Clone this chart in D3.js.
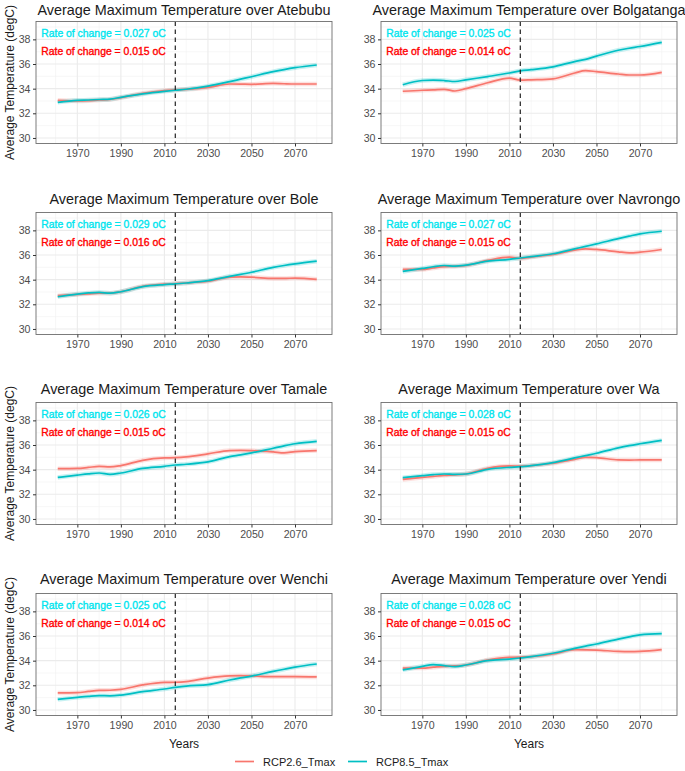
<!DOCTYPE html>
<html>
<head>
<meta charset="utf-8">
<script src="https://cdn.jsdelivr.net/npm/d3@7/dist/d3.min.js"></script>
<style>
  html, body { margin: 0; padding: 0; background: #fff; }
  svg { display: block; font-family: "Liberation Sans", Arial, Helvetica, sans-serif; }
</style>
</head>
<body>
<svg id="chart" width="685" height="771"></svg>
<script>
// ---------------- DATA ----------------
const stations = ["Atebubu", "Bolgatanga", "Bole", "Navrongo", "Tamale", "Wa", "Wenchi", "Yendi"];
const years = [1961, 1970, 1975, 1980, 1985, 1990, 2000, 2010, 2015, 2020, 2030, 2040, 2045, 2050, 2060, 2065, 2070, 2080];

// RCP2.6_Tmax smoothed values per station
const rcp26 = [
  [33.05, 33.00, 33.02, 33.08, 33.12, 33.27, 33.62, 33.84, 33.90, 33.95, 34.10, 34.38, 34.37, 34.35, 34.43, 34.40, 34.38, 34.38],
  [33.79, 33.87, 33.90, 33.95, 33.81, 34.00, 34.48, 34.85, 34.69, 34.72, 34.80, 35.27, 35.46, 35.38, 35.19, 35.11, 35.11, 35.32],
  [32.70, 32.80, 32.85, 32.90, 32.90, 33.02, 33.46, 33.63, 33.68, 33.73, 33.87, 34.20, 34.22, 34.20, 34.10, 34.10, 34.13, 34.03],
  [34.83, 34.83, 34.95, 35.05, 35.08, 35.15, 35.56, 35.83, 35.72, 35.83, 36.05, 36.40, 36.50, 36.45, 36.26, 36.18, 36.23, 36.45],
  [34.08, 34.10, 34.18, 34.27, 34.22, 34.33, 34.76, 34.95, 34.97, 35.03, 35.28, 35.55, 35.56, 35.55, 35.44, 35.36, 35.47, 35.55],
  [33.21, 33.37, 33.45, 33.54, 33.58, 33.65, 34.11, 34.30, 34.28, 34.33, 34.52, 34.84, 35.00, 34.98, 34.79, 34.78, 34.79, 34.79],
  [31.38, 31.40, 31.50, 31.59, 31.60, 31.67, 32.03, 32.24, 32.25, 32.30, 32.59, 32.76, 32.78, 32.76, 32.70, 32.70, 32.70, 32.68],
  [33.40, 33.40, 33.47, 33.54, 33.58, 33.65, 34.05, 34.27, 34.28, 34.32, 34.54, 34.89, 34.88, 34.86, 34.75, 34.73, 34.75, 34.89]
];

// RCP8.5_Tmax smoothed values per station
const rcp85 = [
  [32.89, 33.05, 33.08, 33.12, 33.15, 33.30, 33.57, 33.78, 33.87, 33.95, 34.20, 34.57, 34.77, 34.97, 35.38, 35.55, 35.70, 35.92],
  [34.32, 34.66, 34.70, 34.66, 34.58, 34.72, 34.98, 35.27, 35.45, 35.54, 35.77, 36.20, 36.38, 36.64, 37.12, 37.28, 37.42, 37.76],
  [32.61, 32.83, 32.92, 32.97, 32.90, 33.02, 33.43, 33.60, 33.66, 33.73, 33.92, 34.27, 34.43, 34.60, 35.00, 35.15, 35.28, 35.50],
  [34.67, 34.91, 35.05, 35.15, 35.10, 35.18, 35.50, 35.65, 35.76, 35.87, 36.10, 36.50, 36.70, 36.90, 37.33, 37.53, 37.72, 37.93],
  [33.37, 33.56, 33.66, 33.73, 33.62, 33.73, 34.10, 34.27, 34.38, 34.44, 34.63, 35.06, 35.20, 35.36, 35.74, 35.93, 36.10, 36.30],
  [33.35, 33.51, 33.60, 33.65, 33.62, 33.65, 34.03, 34.19, 34.24, 34.33, 34.57, 34.95, 35.14, 35.33, 35.77, 35.95, 36.10, 36.37],
  [30.86, 31.02, 31.10, 31.16, 31.15, 31.21, 31.48, 31.70, 31.83, 31.94, 32.05, 32.43, 32.60, 32.75, 33.13, 33.30, 33.48, 33.73],
  [33.25, 33.54, 33.68, 33.60, 33.52, 33.65, 34.00, 34.13, 34.22, 34.32, 34.60, 35.00, 35.18, 35.35, 35.75, 35.93, 36.10, 36.20]
];

const rate85 = ["0.027", "0.025", "0.029", "0.027", "0.026", "0.028", "0.025", "0.028"];
const rate26 = ["0.015", "0.014", "0.016", "0.015", "0.015", "0.015", "0.014", "0.015"];

const xTicks = [1970, 1990, 2010, 2030, 2050, 2070];
const xMinor = [1960, 1980, 2000, 2020, 2040, 2060, 2080];
const yTicks = [30, 32, 34, 36, 38];
const yMinor = [31, 33, 35, 37, 39];
const seriesNames = ["RCP2.6_Tmax", "RCP8.5_Tmax"];
const baseYear = 2015;

// ---------------- LAYOUT ----------------
const svg = d3.select("#chart");
const colors = { r26: "#F8766D", r85: "#00BFC4" };
const panelW = 296, panelH = 122;
const colLeft = [36, 381];
const rowTop = [21.5, 212.5, 402.5, 593.5];
const titleBase = [15, 203.5, 393.5, 584];

const xDomain = [1951, 2087];
const yDomain = [29.55, 39.45];

stations.forEach((name, i) => {
  const col = i % 2, row = Math.floor(i / 2);
  const L = colLeft[col], T = rowTop[row];
  const x = d3.scaleLinear().domain(xDomain).range([L, L + panelW]);
  const y = d3.scaleLinear().domain(yDomain).range([T + panelH, T]);
  const g = svg.append("g");

  // panel background
  g.append("rect").attr("x", L).attr("y", T).attr("width", panelW).attr("height", panelH).attr("fill", "#fff");

  // minor grid
  g.selectAll(".xm").data(xMinor).enter().append("line")
    .attr("x1", d => x(d)).attr("x2", d => x(d)).attr("y1", T).attr("y2", T + panelH)
    .attr("stroke", "#F2F2F2").attr("stroke-width", 0.6);
  g.selectAll(".ym").data(yMinor).enter().append("line")
    .attr("x1", L).attr("x2", L + panelW).attr("y1", d => y(d)).attr("y2", d => y(d))
    .attr("stroke", "#F2F2F2").attr("stroke-width", 0.6);
  // major grid
  g.selectAll(".xg").data(xTicks).enter().append("line")
    .attr("x1", d => x(d)).attr("x2", d => x(d)).attr("y1", T).attr("y2", T + panelH)
    .attr("stroke", "#EBEBEB").attr("stroke-width", 1.1);
  g.selectAll(".yg").data(yTicks).enter().append("line")
    .attr("x1", L).attr("x2", L + panelW).attr("y1", d => y(d)).attr("y2", d => y(d))
    .attr("stroke", "#EBEBEB").attr("stroke-width", 1.1);

  // series
  const line = d3.line().x((d, k) => x(years[k])).y(d => y(d)).curve(d3.curveMonotoneX);
  [[rcp26[i], colors.r26], [rcp85[i], colors.r85]].forEach(([vals, c]) => {
    g.append("path").datum(vals).attr("d", line).attr("fill", "none")
      .attr("stroke", c).attr("stroke-opacity", 0.22).attr("stroke-width", 4.5).attr("stroke-linejoin", "round");
  });
  [[rcp26[i], colors.r26], [rcp85[i], colors.r85]].forEach(([vals, c]) => {
    g.append("path").datum(vals).attr("d", line).attr("fill", "none")
      .attr("stroke", c).attr("stroke-width", 1.7).attr("stroke-linejoin", "round");
  });

  // dashed vertical line
  g.append("line").attr("x1", x(baseYear)).attr("x2", x(baseYear)).attr("y1", T).attr("y2", T + panelH)
    .attr("stroke", "#222").attr("stroke-width", 1.2).attr("stroke-dasharray", "4.5,3.5");

  // annotations
  g.append("text").attr("x", x(1982)).attr("y", y(38.45)).attr("text-anchor", "middle")
    .attr("dominant-baseline", "central").attr("font-size", 10.4).attr("fill", "#00E5EE")
    .attr("stroke", "#00E5EE").attr("stroke-width", 0.35)
    .text(`Rate of change = ${rate85[i]} oC`);
  g.append("text").attr("x", x(1982)).attr("y", y(37.0)).attr("text-anchor", "middle")
    .attr("dominant-baseline", "central").attr("font-size", 10.4).attr("fill", "#FF0000")
    .attr("stroke", "#FF0000").attr("stroke-width", 0.35)
    .text(`Rate of change = ${rate26[i]} oC`);

  // border
  g.append("rect").attr("x", L).attr("y", T).attr("width", panelW).attr("height", panelH)
    .attr("fill", "none").attr("stroke", "#6E6E6E").attr("stroke-width", 0.9);

  // axes
  const xAxis = d3.axisBottom(x).tickValues(xTicks).tickFormat(d3.format("d")).tickSize(3).tickPadding(3);
  const yAxis = d3.axisLeft(y).tickValues(yTicks).tickSize(3).tickPadding(2.5);
  const gx = g.append("g").attr("transform", `translate(0,${T + panelH})`).call(xAxis);
  const gy = g.append("g").attr("transform", `translate(${L},0)`).call(yAxis);
  [gx, gy].forEach(a => {
    a.select(".domain").remove();
    a.selectAll(".tick line").attr("stroke", "#333").attr("stroke-width", 1);
    a.selectAll(".tick text").attr("fill", "#4D4D4D").attr("font-size", 10.6)
      .attr("font-family", "'Liberation Sans', Arial, sans-serif");
  });

  // title
  g.append("text").attr("x", L + panelW / 2).attr("y", titleBase[row]).attr("text-anchor", "middle")
    .attr("font-size", 14.4).attr("fill", "#1a1a1a").text(`Average Maximum Temperature over ${name}`);

  // y-axis title (left column rows 1,3,4)
  if (col === 0 && row !== 1) {
    const cy = T + panelH / 2;
    g.append("text").attr("transform", `translate(13.5,${cy}) rotate(-90)`).attr("text-anchor", "middle")
      .attr("font-size", 12).attr("fill", "#1a1a1a").text("Average Temperature (degC)");
  }
  // x-axis title on last row
  if (row === 3) {
    g.append("text").attr("x", L + panelW / 2).attr("y", 747.5).attr("text-anchor", "middle")
      .attr("font-size", 12).attr("fill", "#1a1a1a").text("Years");
  }
});

// legend
const legend = svg.append("g");
const legItems = [
  { name: seriesNames[0], color: colors.r26, x: 235 },
  { name: seriesNames[1], color: colors.r85, x: 348 }
];
legItems.forEach(it => {
  legend.append("line").attr("x1", it.x).attr("x2", it.x + 19).attr("y1", 761.5).attr("y2", 761.5)
    .attr("stroke", it.color).attr("stroke-width", 1.7);
  legend.append("text").attr("x", it.x + 28).attr("y", 761.5).attr("dominant-baseline", "central")
    .attr("font-size", 11).attr("fill", "#1a1a1a").text(it.name);
});
</script>
</body>
</html>
